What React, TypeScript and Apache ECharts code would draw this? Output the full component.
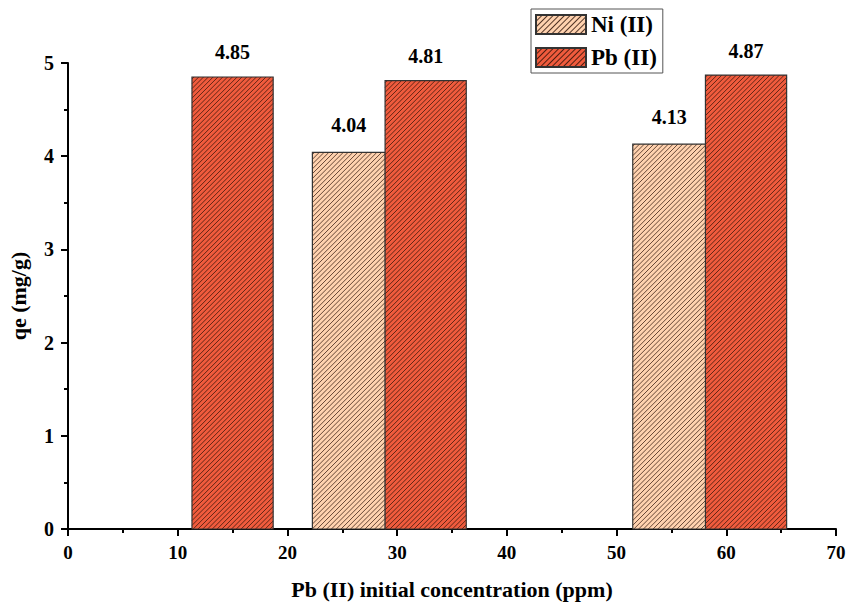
import React, { useEffect, useRef } from "react";
import * as echarts from "echarts";

const niConcentration = [25.6, 54.8];
const niQe = [4.04, 4.13];
const pbConcentration = [15.0, 32.6, 61.8];
const pbQe = [4.85, 4.81, 4.87];
const xTicks = [0, 10, 20, 30, 40, 50, 60, 70];
const yTicks = [0, 1, 2, 3, 4, 5];

const NI_WIDTH = 6.65;
const PB_WIDTH = 7.4;
const NI_COLOR = "#FFD2AF";
const PB_COLOR = "#F05B3D";
const FONT = '"Liberation Serif", "Times New Roman", serif';

function hatchRenderer(barWidth: number, fill: string, labelDist: number) {
  return (params: any, api: any) => {
    const x = api.value(0);
    const v = api.value(1);
    const p0 = api.coord([x - barWidth / 2, v]);
    const p1 = api.coord([x + barWidth / 2, 0]);
    const x0 = p0[0], y0 = p0[1], x1 = p1[0], y1 = p1[1];
    const children: any[] = [
      { type: "rect", shape: { x: x0, y: y0, width: x1 - x0, height: y1 - y0 }, style: { fill } },
    ];
    const step = 4.8;
    for (let c = x0 + y0 + 2; c < x1 + y1; c += step) {
      const sx = Math.max(x0, c - y1);
      const ex = Math.min(x1, c - y0);
      if (ex <= sx) continue;
      children.push({
        type: "line",
        shape: { x1: sx, y1: c - sx, x2: ex, y2: c - ex },
        style: { stroke: "rgba(40,15,5,0.8)", lineWidth: 0.9 },
        silent: true,
      });
    }
    children.push({
      type: "rect",
      shape: { x: x0, y: y0, width: x1 - x0, height: y1 - y0 },
      style: { fill: "none", stroke: "#333", lineWidth: 1.2 },
      textContent: {
        style: { text: v.toFixed(2), font: `bold 20px ${FONT}`, fill: "#000" },
      },
      textConfig: { position: "top", distance: labelDist },
    });
    return { type: "group", children };
  };
}

export default function App() {
  const ref = useRef<HTMLDivElement>(null);
  useEffect(() => {
    if (!ref.current) return;
    const chart = echarts.init(ref.current, null, { renderer: "svg" });
    const decal = {
      symbol: "rect",
      symbolSize: 1,
      dashArrayX: [1, 0],
      dashArrayY: [1, 3],
      rotation: -Math.PI / 4,
      color: "rgba(40,15,5,0.8)",
    };
    chart.setOption({
      animation: false,
      grid: { left: 68, right: 10, top: 63, bottom: 75, containLabel: false, outerBoundsMode: "none" },
      legend: {
        orient: "vertical",
        left: 531,
        top: 9,
        padding: [4, 6, 4, 4],
        itemWidth: 50,
        itemHeight: 19,
        itemGap: 10,
        borderColor: "#555",
        borderWidth: 1,
        borderRadius: 0,
        icon: "rect",
        textStyle: { fontFamily: FONT, fontWeight: "bold", fontSize: 23, color: "#000" },
        data: ["Ni (II)", "Pb (II)"],
      },
      xAxis: {
        type: "value",
        min: 0,
        max: 70,
        interval: 10,
        name: "Pb (II) initial concentration (ppm)",
        nameLocation: "middle",
        nameGap: 49,
        nameTextStyle: { fontFamily: FONT, fontWeight: "bold", fontSize: 22, color: "#000" },
        axisLine: { lineStyle: { color: "#000", width: 2 } },
        axisTick: { inside: false, length: 7, lineStyle: { width: 2, color: "#000" } },
        minorTick: { show: true, splitNumber: 2, length: 4, lineStyle: { width: 2, color: "#000" } },
        splitLine: { show: false },
        axisLabel: {
          margin: 14,
          fontFamily: FONT,
          fontWeight: "bold",
          fontSize: 19,
          color: "#000",
          formatter: (v: number) => (xTicks.includes(v) ? String(v) : ""),
        },
      },
      yAxis: {
        type: "value",
        min: 0,
        max: 5,
        interval: 1,
        name: "qe (mg/g)",
        nameLocation: "middle",
        nameGap: 39,
        nameTextStyle: { fontFamily: FONT, fontWeight: "bold", fontSize: 22, color: "#000" },
        axisLine: { show: true, lineStyle: { color: "#000", width: 2 } },
        axisTick: { show: true, inside: false, length: 7, lineStyle: { width: 2, color: "#000" } },
        minorTick: { show: true, splitNumber: 2, length: 4, lineStyle: { width: 2, color: "#000" } },
        splitLine: { show: false },
        axisLabel: {
          margin: 14,
          fontFamily: FONT,
          fontWeight: "bold",
          fontSize: 20,
          color: "#000",
          formatter: (v: number) => (yTicks.includes(v) ? String(v) : ""),
        },
      },
      series: [
        {
          name: "Ni (II)",
          type: "custom",
          renderItem: hatchRenderer(NI_WIDTH, NI_COLOR, 15),
          itemStyle: { color: NI_COLOR, borderColor: "#333", borderWidth: 1, decal },
          encode: { x: 0, y: 1 },
          data: niConcentration.map((c, i) => [c, niQe[i]]),
          z: 2,
        },
        {
          name: "Pb (II)",
          type: "custom",
          renderItem: hatchRenderer(PB_WIDTH, PB_COLOR, 12),
          itemStyle: { color: PB_COLOR, borderColor: "#333", borderWidth: 1, decal },
          encode: { x: 0, y: 1 },
          data: pbConcentration.map((c, i) => [c, pbQe[i]]),
          z: 2,
        },
      ],
    });
    return () => chart.dispose();
  }, []);
  return <div ref={ref} style={{ width: 846, height: 604, position: "absolute", left: 0, top: 0 }} />;
}
